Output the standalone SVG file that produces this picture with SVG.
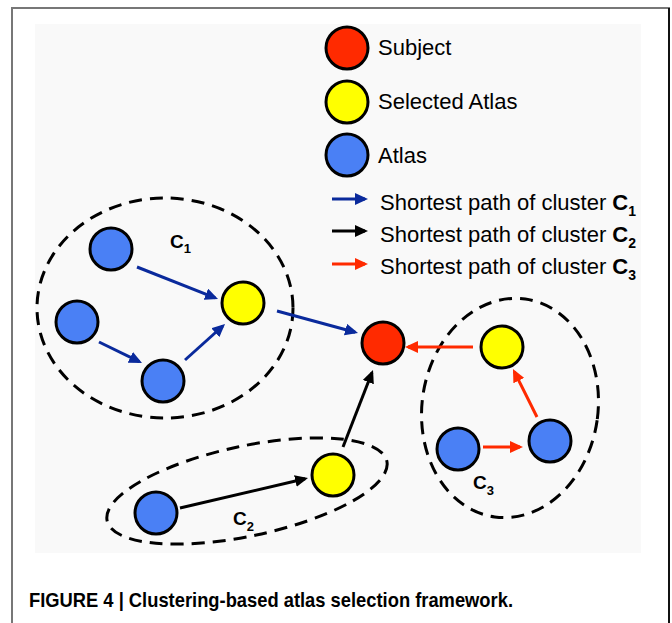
<svg xmlns="http://www.w3.org/2000/svg" width="672" height="623" viewBox="0 0 672 623">
  <defs>
    <marker id="ah-blue" markerUnits="userSpaceOnUse" markerWidth="13" markerHeight="12" refX="10" refY="6" orient="auto">
      <path d="M0,0 L13,6 L0,12 Z" fill="#0a2a9c"/>
    </marker>
    <marker id="ah-black" markerUnits="userSpaceOnUse" markerWidth="13" markerHeight="12" refX="10" refY="6" orient="auto">
      <path d="M0,0 L13,6 L0,12 Z" fill="#000000"/>
    </marker>
    <marker id="ah-red" markerUnits="userSpaceOnUse" markerWidth="13" markerHeight="12" refX="10" refY="6" orient="auto">
      <path d="M0,0 L13,6 L0,12 Z" fill="#ff2a00"/>
    </marker>
  </defs>
  <style>
    .node { stroke: #000; stroke-width: 3; }
    .subject { fill: #ff2a00; }
    .selected { fill: #ffff00; }
    .atlas { fill: #4a80f5; }
    .cluster { fill: none; stroke: #000; stroke-width: 3; stroke-dasharray: 13 8; }
    .edge { fill: none; stroke-width: 3; }
    .c1 { stroke: #0a2a9c; marker-end: url(#ah-blue); }
    .c2 { stroke: #000000; marker-end: url(#ah-black); }
    .c3 { stroke: #ff2a00; marker-end: url(#ah-red); }
    .legend { font-family: "Liberation Sans", Arial, sans-serif; font-size: 22px; fill: #000; }
    .clabel { font-family: "Liberation Sans", Arial, sans-serif; font-weight: bold; font-size: 19px; fill: #000; }
    .caption { font-family: "Liberation Sans", Arial, sans-serif; font-weight: bold; font-size: 21px; fill: #000; }
  </style>

  <!-- page frame -->
  <rect x="0" y="0" width="672" height="623" fill="#ffffff"/>
  <line x1="12" y1="8" x2="12" y2="623" stroke="#777" stroke-width="2"/>
  <line x1="11" y1="8" x2="670" y2="8" stroke="#777" stroke-width="2"/>
  <line x1="669" y1="8" x2="669" y2="623" stroke="#111" stroke-width="2"/>
  <rect x="35" y="24" width="606" height="529" fill="#f9f9f9"/>

  <!-- clusters -->
  <g id="cluster-c1">
    <ellipse class="cluster" cx="165" cy="308" rx="128" ry="110"/>
    <text class="clabel" x="170" y="248">C<tspan font-size="13" dy="5">1</tspan></text>
  </g>
  <g id="cluster-c2">
    <ellipse class="cluster" cx="247" cy="491" rx="143" ry="45" transform="rotate(-12 247 491)"/>
    <text class="clabel" x="233" y="525">C<tspan font-size="13" dy="6">2</tspan></text>
  </g>
  <g id="cluster-c3">
    <ellipse class="cluster" cx="510" cy="408" rx="88" ry="110" transform="rotate(8 510 408)"/>
    <text class="clabel" x="473" y="489">C<tspan font-size="13" dy="6">3</tspan></text>
  </g>

  <!-- connectors -->
  <g id="connectors">
    <line class="edge c1" x1="137" y1="267" x2="215.2" y2="297.9"/>
    <line class="edge c1" x1="99" y1="342" x2="139.3" y2="361.7"/>
    <line class="edge c1" x1="185" y1="360" x2="222.8" y2="326"/>
    <line class="edge c1" x1="277" y1="311" x2="355.1" y2="332.2"/>
    <line class="edge c2" x1="180" y1="508" x2="305.1" y2="478.7"/>
    <line class="edge c2" x1="343" y1="447" x2="371.9" y2="372.8"/>
    <line class="edge c3" x1="483" y1="447" x2="520" y2="447"/>
    <line class="edge c3" x1="537" y1="417" x2="514.3" y2="371.7"/>
    <line class="edge c3" x1="473" y1="347" x2="408" y2="347"/>
  </g>

  <!-- nodes -->
  <g id="subject"><circle class="node subject" cx="383" cy="343" r="21"/></g>
  <g id="c1-selected"><circle class="node selected" cx="243" cy="303" r="21"/></g>
  <g id="c1-atlas-a"><circle class="node atlas" cx="111" cy="249" r="21"/></g>
  <g id="c1-atlas-b"><circle class="node atlas" cx="77" cy="322" r="21"/></g>
  <g id="c1-atlas-c"><circle class="node atlas" cx="163" cy="381" r="21"/></g>
  <g id="c2-selected"><circle class="node selected" cx="333" cy="475" r="21"/></g>
  <g id="c2-atlas"><circle class="node atlas" cx="156" cy="513" r="21"/></g>
  <g id="c3-selected"><circle class="node selected" cx="502" cy="347" r="21"/></g>
  <g id="c3-atlas-a"><circle class="node atlas" cx="458" cy="449" r="21"/></g>
  <g id="c3-atlas-b"><circle class="node atlas" cx="550" cy="441" r="21"/></g>

  <!-- legend -->
  <g id="legend">
    <circle class="node subject" cx="347" cy="48" r="21"/>
    <text class="legend" x="378" y="55">Subject</text>
    <circle class="node selected" cx="347" cy="102" r="21"/>
    <text class="legend" x="378" y="109">Selected Atlas</text>
    <circle class="node atlas" cx="347" cy="155" r="21"/>
    <text class="legend" x="378" y="163">Atlas</text>

    <line class="edge c1" x1="332" y1="199" x2="365" y2="199"/>
    <text class="legend" x="380" y="210">Shortest path of cluster <tspan font-weight="bold">C</tspan><tspan font-weight="bold" font-size="14" dy="6">1</tspan></text>
    <line class="edge c2" x1="332" y1="231" x2="365" y2="231"/>
    <text class="legend" x="380" y="242">Shortest path of cluster <tspan font-weight="bold">C</tspan><tspan font-weight="bold" font-size="14" dy="6">2</tspan></text>
    <line class="edge c3" x1="332" y1="264" x2="365" y2="264"/>
    <text class="legend" x="380" y="274">Shortest path of cluster <tspan font-weight="bold">C</tspan><tspan font-weight="bold" font-size="14" dy="6">3</tspan></text>
  </g>

  <!-- caption -->
  <text class="caption" x="29" y="607" textLength="484" lengthAdjust="spacingAndGlyphs">FIGURE 4 | Clustering-based atlas selection framework.</text>
</svg>
